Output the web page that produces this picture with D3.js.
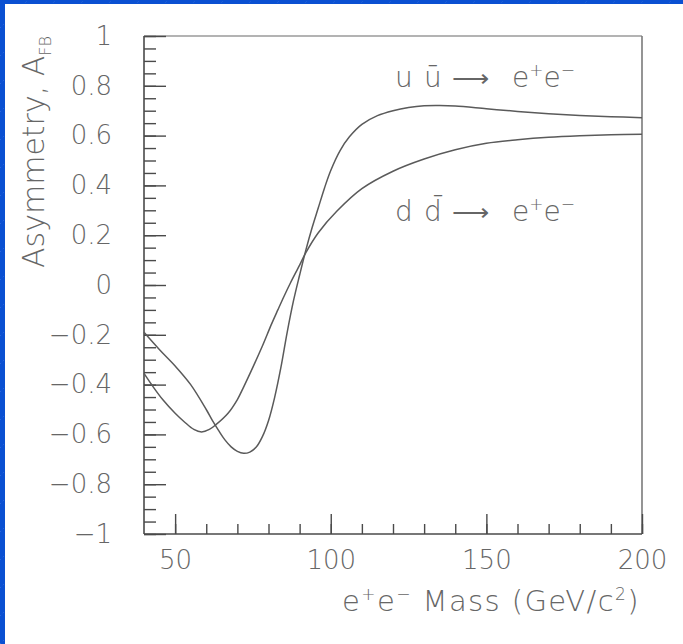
<!DOCTYPE html>
<html>
<head>
<meta charset="utf-8">
<script src="https://cdn.jsdelivr.net/npm/d3@7"></script>
<style>
  html, body { margin: 0; padding: 0; background: #0a50d2; }
  svg { display: block; }
  text { font-family: "DejaVu Sans", sans-serif; font-weight: 200; fill: #666666; }
</style>
</head>
<body>
<svg id="chart" width="683" height="644"></svg>
<script>
// Forward-backward asymmetry vs. dilepton mass
const uMass = [40, 45, 50, 55, 60, 62, 64, 66, 68, 70, 72, 74, 76, 78, 80, 82, 84, 86, 88, 90, 92, 94, 96, 98, 100, 103, 106, 110, 115, 120, 125, 130, 135, 140, 150, 160, 170, 180, 190, 200];
const uAsym = [-0.19, -0.26, -0.325, -0.40, -0.50, -0.545, -0.585, -0.622, -0.65, -0.668, -0.676, -0.671, -0.652, -0.61, -0.545, -0.45, -0.33, -0.19, -0.065, 0.04, 0.14, 0.23, 0.31, 0.39, 0.46, 0.54, 0.595, 0.645, 0.68, 0.70, 0.713, 0.72, 0.721, 0.719, 0.708, 0.697, 0.688, 0.681, 0.676, 0.672];

const dMass = [40, 43, 46, 50, 53, 56, 58.5, 61, 63, 67, 70, 72, 75, 78, 81, 83, 85, 87, 90, 92, 96, 102, 110, 120, 130, 140, 150, 160, 170, 180, 190, 200];
const dAsym = [-0.355, -0.41, -0.46, -0.515, -0.55, -0.58, -0.59, -0.58, -0.562, -0.515, -0.46, -0.41, -0.33, -0.246, -0.156, -0.10, -0.045, 0.007, 0.08, 0.13, 0.21, 0.297, 0.387, 0.457, 0.506, 0.543, 0.569, 0.583, 0.593, 0.599, 0.603, 0.605];

const xMajorTicks = [50, 100, 150, 200];
const xMinorTicks = d3.range(50, 201, 10);
const yMajorTicks = [1, 0.8, 0.6, 0.4, 0.2, 0, -0.2, -0.4, -0.6, -0.8, -1];
const yTickLabels = ["1", "0.8", "0.6", "0.4", "0.2", "0", "\u22120.2", "\u22120.4", "\u22120.6", "\u22120.8", "\u22121"];
const yMinorTicks = d3.range(-20, 21).map(i => i * 0.05);

const svg = d3.select("#chart");

// blue slide backdrop with faint diagonal hatching
const defs = svg.append("defs");
const pat = defs.append("pattern")
  .attr("id", "hatch").attr("patternUnits", "userSpaceOnUse")
  .attr("width", 28).attr("height", 28);
pat.append("rect").attr("width", 28).attr("height", 28).attr("fill", "#0a50d2");
pat.append("path").attr("d", "M0,28 L28,0")
  .attr("stroke", "#4a80e6").attr("stroke-width", 0.8)
  .attr("stroke-dasharray", "1.5,2.5").attr("opacity", 0.6);
svg.append("rect").attr("width", 683).attr("height", 644).attr("fill", "url(#hatch)");
svg.append("rect").attr("x", 5).attr("y", 4).attr("width", 678).attr("height", 640).attr("fill", "#ffffff");

const plotLeft = 144, plotRight = 642, plotTop = 36, plotBottom = 534;
const x = d3.scaleLinear().domain([40, 200]).range([plotLeft, plotRight]);
const y = d3.scaleLinear().domain([-1, 1]).range([plotBottom, plotTop]);

const axisColor = "#4a4a4a";

// frame
svg.append("line").attr("x1", plotLeft).attr("x2", plotRight).attr("y1", plotTop).attr("y2", plotTop)
  .attr("stroke", "#9a9a9a").attr("stroke-width", 1.6);
svg.append("line").attr("x1", plotRight).attr("x2", plotRight).attr("y1", plotTop).attr("y2", plotBottom)
  .attr("stroke", "#7a7a7a").attr("stroke-width", 1.6);

function styleTicks(g) {
  g.select(".domain").remove();
  g.selectAll(".tick line").attr("stroke", axisColor).attr("stroke-width", 1.4);
  g.selectAll(".tick text").remove();
}

function styleLabels(g) {
  g.select(".domain").remove();
  g.selectAll("text").attr("font-size", 26).attr("fill", "#666666")
    .attr("font-family", "DejaVu Sans, sans-serif").attr("font-weight", 200);
}

// y ticks, pointing into the plot
svg.append("g").attr("transform", `translate(${plotLeft},0)`)
  .call(d3.axisRight(y).tickValues(yMinorTicks).tickSize(12).tickFormat(""))
  .call(styleTicks);
svg.append("g").attr("transform", `translate(${plotLeft},0)`)
  .call(d3.axisRight(y).tickValues(yMajorTicks).tickSize(22).tickFormat(""))
  .call(styleTicks);
svg.append("g").attr("transform", `translate(${plotLeft},0)`)
  .call(d3.axisLeft(y).tickValues(yMajorTicks).tickSize(0).tickPadding(32)
    .tickFormat((d, i) => yTickLabels[i]))
  .call(styleLabels);

// x ticks, pointing into the plot
svg.append("g").attr("transform", `translate(0,${plotBottom})`)
  .call(d3.axisTop(x).tickValues(xMinorTicks).tickSize(10).tickFormat(""))
  .call(styleTicks);
svg.append("g").attr("transform", `translate(0,${plotBottom})`)
  .call(d3.axisTop(x).tickValues(xMajorTicks).tickSize(20).tickFormat(""))
  .call(styleTicks);
svg.append("g").attr("transform", `translate(0,${plotBottom})`)
  .call(d3.axisBottom(x).tickValues(xMajorTicks).tickSize(0).tickPadding(17).tickFormat(d3.format("d")))
  .call(styleLabels);

// left and bottom axis lines
svg.append("line").attr("x1", plotLeft).attr("x2", plotLeft).attr("y1", plotTop).attr("y2", plotBottom)
  .attr("stroke", axisColor).attr("stroke-width", 1.6);
svg.append("line").attr("x1", plotLeft).attr("x2", plotRight).attr("y1", plotBottom).attr("y2", plotBottom)
  .attr("stroke", axisColor).attr("stroke-width", 1.6);

// curves
const line = d3.line().curve(d3.curveCatmullRom.alpha(0.5))
  .x(d => x(d[0])).y(d => y(d[1]));
svg.append("path").datum(d3.zip(uMass, uAsym)).attr("d", line)
  .attr("fill", "none").attr("stroke", "#5a5a5a").attr("stroke-width", 1.5);
svg.append("path").datum(d3.zip(dMass, dAsym)).attr("d", line)
  .attr("fill", "none").attr("stroke", "#5a5a5a").attr("stroke-width", 1.5);

// process labels
function processLabel(yBase, q, qbar) {
  const t = svg.append("text").attr("y", yBase).attr("font-size", 28);
  t.append("tspan").attr("x", 395).text(q);
  t.append("tspan").attr("x", 424).text(qbar);
  t.append("tspan").attr("x", 452).attr("font-size", 26).text("\u27F6");
  t.append("tspan").attr("x", 512).text("e");
  t.append("tspan").attr("dy", -11).attr("font-size", 17).text("+");
  t.append("tspan").attr("dy", 11).text("e");
  t.append("tspan").attr("dy", -11).attr("font-size", 17).text("\u2212");
}
processLabel(87, "u", "\u016B");
processLabel(221, "d", "d\u0304");

// x-axis title
const xt = svg.append("text").attr("x", 640).attr("y", 611).attr("text-anchor", "end")
  .attr("font-size", 29).attr("letter-spacing", 1.4);
xt.append("tspan").text("e");
xt.append("tspan").attr("dy", -11).attr("font-size", 17).text("+");
xt.append("tspan").attr("dy", 11).text("e");
xt.append("tspan").attr("dy", -11).attr("font-size", 17).text("\u2212");
xt.append("tspan").attr("dy", 11).text(" Mass (GeV/c");
xt.append("tspan").attr("dy", -11).attr("font-size", 17).text("2");
xt.append("tspan").attr("dy", 11).text(")");

// y-axis title
const yt = svg.append("text").attr("transform", "translate(44,36) rotate(-90)")
  .attr("text-anchor", "end").attr("font-size", 30);
yt.append("tspan").text("Asymmetry, A");
yt.append("tspan").attr("dy", 7).attr("font-size", 16).text("FB");
</script>
</body>
</html>
